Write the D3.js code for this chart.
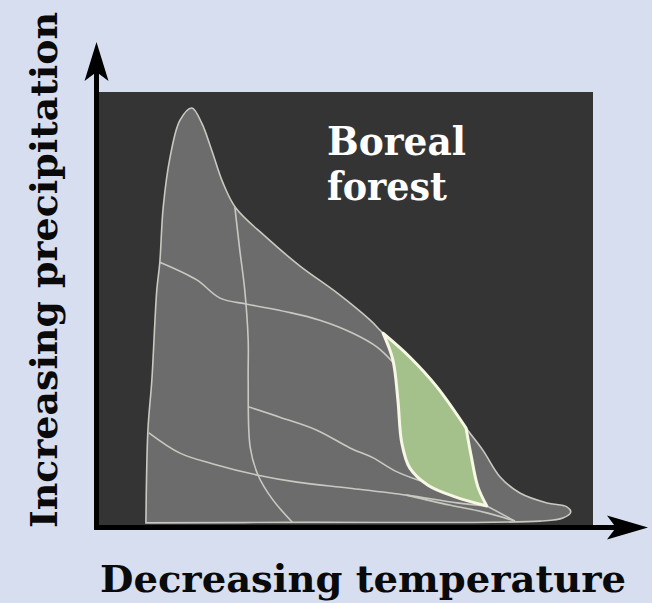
<!DOCTYPE html>
<html><head><meta charset="utf-8">
<script src="https://cdn.jsdelivr.net/npm/d3@7"></script>
<style>html,body{margin:0;padding:0;background:#d7def0;}svg{display:block;}</style>
</head><body>
<script>
// Axis titles and label
const xTitle = "Decreasing temperature";
const yTitle = "Increasing precipitation";
const biomeLabel = ["Boreal", "forest"];

// Outline of all terrestrial biomes (temperature index, precipitation index), 0-100
const envelope = [[9.5,0.5],[9.9,21.9],[10.7,33.5],[11.7,54.3],[12.3,60.5],[13.0,73.4],[14.4,85.0],[16.4,93.5],[18.8,96.3],[20.8,92.8],[22.8,86.6],[25.1,79.0],[27.7,73.2],[33.6,66.7],[40.7,59.8],[48.2,53.6],[54.9,47.3],[57.5,44.3],[62.9,38.8],[68.4,31.9],[74.3,22.4],[77.7,17.3],[81.2,11.1],[85.2,7.4],[90.7,5.1],[94.7,4.2],[95.5,3.0],[93.9,1.6],[89.3,0.9],[40.7,0.6],[9.5,0.5]];

// Boreal forest region: three edges
const borealTop = [[57.5,44.3],[62.9,38.8],[68.4,31.9],[74.3,22.4]];
const borealRight = [[74.3,22.4],[75.3,16.2],[76.7,8.8],[78.5,4.4]];
const borealLeft = [[78.5,4.4],[72.1,6.5],[66.6,9.2],[62.9,13.2],[61.3,18.9],[60.5,28.9],[59.5,38.1],[57.5,44.3]];

// Internal biome boundaries
const boundaries = [
  [[27.5,73.4],[28.5,63.5],[29.5,54.3],[30.2,42.7],[30.2,33.5],[30.6,18.0],[32.2,11.5],[35.2,5.8],[39.1,0.7]],
  [[12.3,60.7],[19.8,56.6],[24.5,52.4],[30.0,51.0],[38.1,49.2],[44.7,47.3],[51.4,44.3],[56.3,41.1],[59.5,37.6]],
  [[30.2,27.3],[36.6,24.9],[44.1,21.9],[50.8,17.8],[55.5,15.5],[59.9,12.5],[65.0,10.2]],
  [[10.1,21.3],[16.4,16.6],[23.1,14.1],[32.2,11.5],[40.1,9.9],[50.8,8.5],[62.3,6.9],[72.5,5.1],[78.5,4.4]],
  [[62.3,6.9],[71.0,4.6],[78.5,2.8],[84.2,0.9]],
  [[78.5,4.4],[84.2,0.9]]
];

const W = 652, H = 603;
const svg = d3.select("body").append("svg").attr("width", W).attr("height", H);
svg.append("rect").attr("width", W).attr("height", H).attr("fill", "#d7def0");

const x = d3.scaleLinear().domain([0, 100]).range([99, 593]);
const y = d3.scaleLinear().domain([0, 100]).range([525, 92]);

// plot background
svg.append("rect").attr("x", x(0)).attr("y", y(100))
  .attr("width", x(100) - x(0)).attr("height", y(0) - y(100)).attr("fill", "#343434");

const line = d3.line().x(d => x(d[0])).y(d => y(d[1])).curve(d3.curveCatmullRom.alpha(0.5));

svg.append("path").attr("d", line(envelope) + "Z")
  .attr("fill", "#6c6c6c").attr("stroke", "#c9c9c2").attr("stroke-width", 1.6);

const g = svg.append("g");
boundaries.forEach(b => {
  g.append("path").attr("d", line(b)).attr("fill", "none")
    .attr("stroke", "#c9c9c2").attr("stroke-width", 1.6);
});

function joinSegs(segs) {
  let d = line(segs[0]);
  for (let i = 1; i < segs.length; i++) d += line(segs[i]).replace(/^M[^CLZ]*/, "");
  return d + "Z";
}
svg.append("path").attr("d", joinSegs([borealTop, borealRight, borealLeft]))
  .attr("fill", "#a4c08b").attr("stroke", "#f7f7e6").attr("stroke-width", 3)
  .attr("stroke-linejoin", "round");

// axes
const ax = svg.append("g");
const axX = x(0) - 2.5, axY = y(0) + 2.5;
ax.append("line").attr("x1", axX).attr("y1", axY).attr("x2", axX).attr("y2", 60)
  .attr("stroke", "#000").attr("stroke-width", 5);
ax.append("line").attr("x1", axX - 2.5).attr("y1", axY).attr("x2", 630).attr("y2", axY)
  .attr("stroke", "#000").attr("stroke-width", 5);
ax.append("path").attr("d", `M${axX},42 L${axX + 12},81 L${axX},72 L${axX - 12},81 Z`).attr("fill", "#000");
ax.append("path").attr("d", `M648,${axY} L607,${axY - 12} L616,${axY} L607,${axY + 12} Z`).attr("fill", "#000");

// labels
const serif = "'DejaVu Serif', 'Liberation Serif', serif";
svg.append("text").attr("x", 363).attr("y", 592).attr("text-anchor", "middle")
  .attr("font-family", serif).attr("font-weight", "bold").attr("font-size", 38)
  .attr("textLength", 526).attr("lengthAdjust", "spacingAndGlyphs")
  .attr("fill", "#0a0a0a").text(xTitle);
svg.append("text").attr("transform", "translate(57,270) rotate(-90)").attr("text-anchor", "middle")
  .attr("font-family", serif).attr("font-weight", "bold").attr("font-size", 37)
  .attr("textLength", 516).attr("lengthAdjust", "spacingAndGlyphs")
  .attr("fill", "#0a0a0a").text(yTitle);

const bl = svg.append("text").attr("font-family", serif).attr("font-weight", "bold")
  .attr("font-size", 39).attr("fill", "#ffffff");
bl.append("tspan").attr("x", 327).attr("y", 155).attr("textLength", 139).attr("lengthAdjust", "spacingAndGlyphs").text(biomeLabel[0]);
bl.append("tspan").attr("x", 327).attr("y", 200).attr("textLength", 120).attr("lengthAdjust", "spacingAndGlyphs").text(biomeLabel[1]);
</script>
</body></html>
